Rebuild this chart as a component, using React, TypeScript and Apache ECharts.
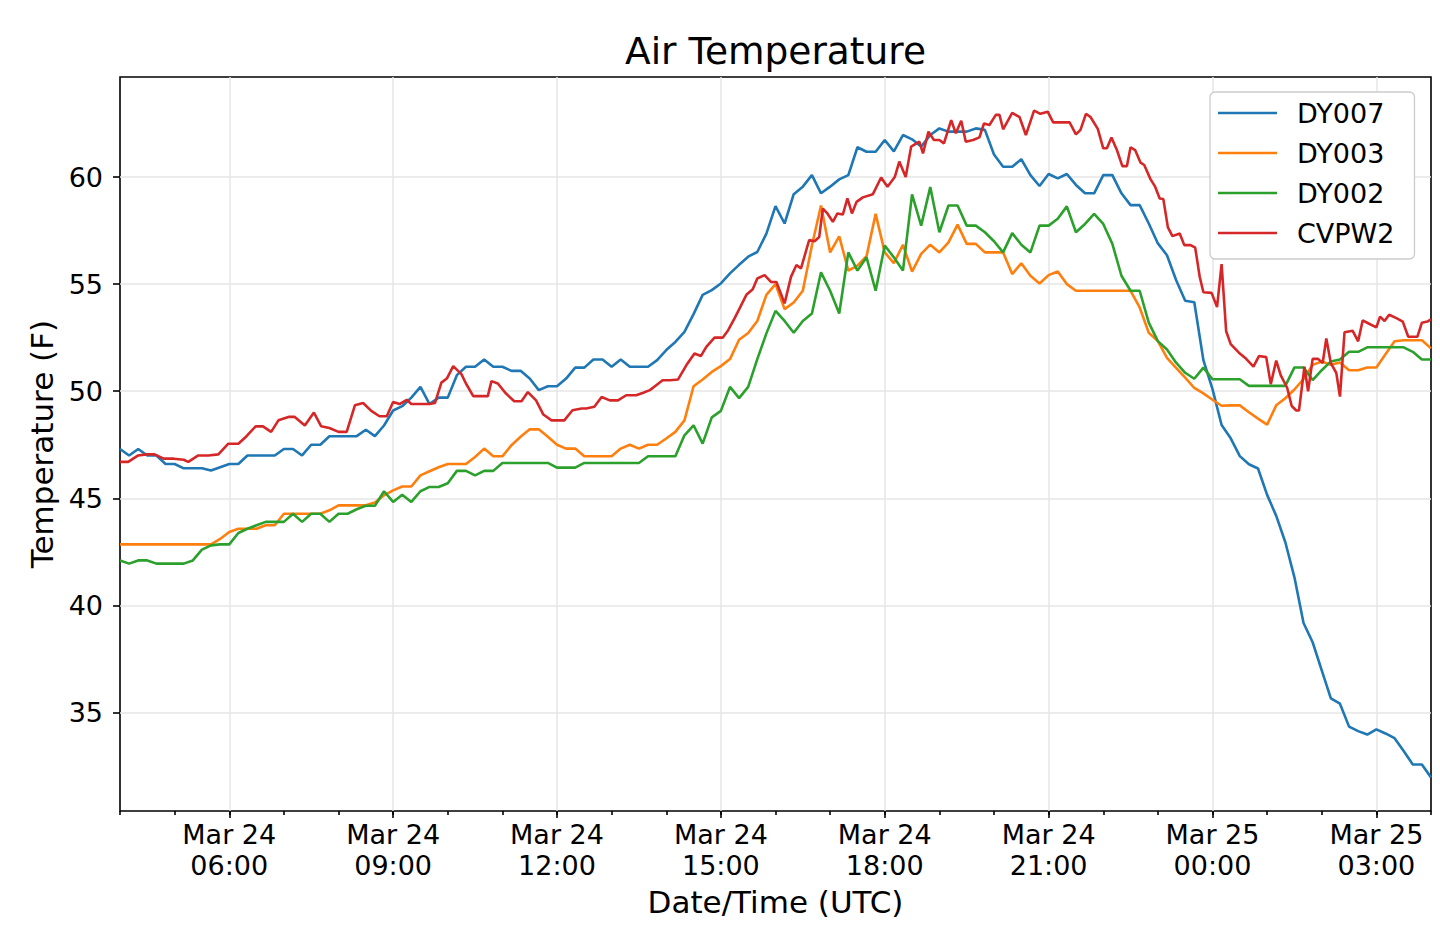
import React, { useEffect, useRef } from "react";
import * as echarts from "echarts";

const FONT = "'DejaVu Sans', 'Noto Sans', sans-serif";

// minutes after Mar 24 04:00 UTC; DY stations report every 10 minutes
const STEP_MINUTES = 10;

const dy007 = [
  47.3, 47.0, 47.3, 47.0, 47.0, 46.6, 46.6, 46.4, 46.4, 46.4,
  46.3, 46.45, 46.6, 46.6, 47.0, 47.0, 47.0, 47.0, 47.3, 47.3,
  47.0, 47.5, 47.5, 47.9, 47.9, 47.9, 47.9, 48.2, 47.9, 48.4,
  49.1, 49.3, 49.7, 50.2, 49.4, 49.7, 49.7, 50.75, 51.14, 51.14,
  51.48, 51.14, 51.14, 50.95, 50.95, 50.59, 50.05, 50.23, 50.23, 50.59,
  51.1, 51.1, 51.48, 51.48, 51.14, 51.48, 51.14, 51.14, 51.14, 51.45,
  51.92, 52.3, 52.77, 53.6, 54.5, 54.72, 55.03, 55.5, 55.9, 56.28,
  56.5, 57.36, 58.64, 57.83, 59.2, 59.55, 60.09, 59.24, 59.55, 59.89,
  60.09, 61.39, 61.18, 61.18, 61.73, 61.2, 61.96, 61.76, 61.42, 61.96,
  62.27, 62.12, 62.12, 62.12, 62.27, 62.2, 61.05, 60.48, 60.48, 60.83,
  60.09, 59.58, 60.14, 59.94, 60.14, 59.63, 59.24, 59.24, 60.09, 60.09,
  59.24, 58.69, 58.69, 57.83, 56.9, 56.35, 55.19, 54.22, 54.15, 51.45,
  50.1, 48.42, 47.8, 46.97, 46.59, 46.39, 45.16, 44.18, 42.95, 41.31,
  39.18, 38.28, 36.97, 35.66, 35.41, 34.34, 34.13, 33.97, 34.21, 34.02,
  33.8, 33.2, 32.57, 32.57, 31.97,
];

const dy003 = [
  42.85, 42.85, 42.85, 42.85, 42.85, 42.85, 42.85, 42.85, 42.85, 42.85,
  42.85, 43.1, 43.43, 43.58, 43.58, 43.58, 43.74, 43.74, 44.28, 44.28,
  44.28, 44.28, 44.28, 44.44, 44.67, 44.67, 44.67, 44.67, 44.8, 45.14,
  45.37, 45.55, 45.55, 46.07, 46.26, 46.45, 46.6, 46.6, 46.6, 46.93,
  47.32, 46.96, 46.96, 47.48, 47.87, 48.22, 48.22, 47.87, 47.5, 47.32,
  47.32, 46.96, 46.96, 46.96, 46.96, 47.32, 47.5, 47.32, 47.5, 47.5,
  47.79, 48.1, 48.64, 50.23, 50.55, 50.9, 51.17, 51.5, 52.4, 52.72,
  53.28, 54.5, 55.0, 53.83, 54.14, 54.69, 56.8, 58.67, 56.48, 57.23,
  55.63, 55.86, 56.3, 58.28, 56.48, 55.98, 56.84, 55.58, 56.41, 56.84,
  56.48, 56.95, 57.78, 56.88, 56.88, 56.48, 56.48, 56.48, 55.47, 55.97,
  55.39, 55.03, 55.42, 55.59, 55.0, 54.69, 54.69, 54.69, 54.69, 54.69,
  54.69, 54.69, 53.91, 52.73, 52.34, 51.56, 51.09, 50.63, 50.15, 49.9,
  49.6, 49.32, 49.34, 49.34, 49.02, 48.72, 48.44, 49.34, 49.67, 50.08,
  50.57, 51.23, 51.39, 51.23, 51.34, 50.98, 50.98, 51.11, 51.11, 51.72,
  52.33, 52.38, 52.38, 52.38, 52.0,
];

const dy002 = [
  42.1, 41.95, 42.1, 42.1, 41.95, 41.95, 41.95, 41.95, 42.1, 42.6,
  42.8, 42.85, 42.85, 43.38, 43.58, 43.74, 43.9, 43.9, 43.9, 44.28,
  43.9, 44.28, 44.28, 43.9, 44.28, 44.28, 44.49, 44.65, 44.65, 45.33,
  44.83, 45.17, 44.83, 45.33, 45.53, 45.53, 45.7, 46.28, 46.28, 46.07,
  46.28, 46.28, 46.65, 46.65, 46.65, 46.65, 46.65, 46.65, 46.43, 46.43,
  46.43, 46.65, 46.65, 46.65, 46.65, 46.65, 46.65, 46.65, 46.96, 46.96,
  46.96, 46.96, 47.94, 48.41, 47.55, 48.78, 49.08, 50.2, 49.68, 50.2,
  51.5, 52.7, 53.75, 53.28, 52.73, 53.28, 53.63, 55.55, 54.69, 53.63,
  56.48, 55.63, 56.25, 54.69, 56.8, 56.25, 55.63, 59.19, 57.73, 59.53,
  57.42, 58.67, 58.67, 57.73, 57.73, 57.42, 57.0, 56.48, 57.38, 56.84,
  56.48, 57.73, 57.73, 58.05, 58.63, 57.42, 57.81, 58.28, 57.81, 56.88,
  55.39, 54.69, 54.69, 53.2, 52.34, 51.95, 51.33, 50.86, 50.58, 51.1,
  50.56, 50.56, 50.56, 50.56, 50.25, 50.25, 50.25, 50.25, 50.25, 51.11,
  51.11, 50.52, 50.98, 51.39, 51.48, 51.84, 51.84, 52.05, 52.05, 52.05,
  52.05, 52.05, 51.84, 51.48, 51.48,
];

// CVPW2 reports irregularly: minutes after Mar 24 04:00 UTC and values
const cvpw2Minutes = [
  0, 9, 20, 29, 38, 48, 59, 70, 75, 86, 97, 108, 119, 130, 139, 149, 157, 166, 174, 185,
  192, 203, 213, 221, 230, 240, 249, 258, 267, 276, 285, 293, 300, 307, 315, 320, 340, 346, 353, 359,
  366, 375, 380, 388, 404, 408, 415, 424, 433, 441, 448, 457, 465, 474, 488, 497, 507, 512, 521, 529,
  538, 547, 556, 567, 574, 582, 589, 596, 604, 613, 622, 631, 638, 644, 653, 662, 668, 675, 681, 688,
  695, 700, 708, 715, 721, 730, 737, 743, 748, 757, 763, 768, 772, 777, 783, 788, 794, 799, 804, 809,
  816, 827, 836, 843, 851, 856, 863, 869, 878, 882, 888, 894, 900, 905, 913, 918, 924, 929, 937, 944,
  949, 955, 962, 966, 970, 980, 988, 995, 1004, 1011, 1019, 1025, 1033, 1043, 1050, 1055, 1061, 1066, 1074, 1080,
  1084, 1089, 1095, 1101, 1106, 1110, 1115, 1121, 1125, 1132, 1137, 1142, 1146, 1151, 1156, 1164, 1169, 1176, 1181, 1186,
  1190, 1199, 1205, 1210, 1215, 1220, 1229, 1237, 1245, 1251, 1259, 1264, 1270, 1275, 1282, 1287, 1292, 1295, 1301, 1305,
  1310, 1316, 1321, 1325, 1330, 1336, 1340, 1345, 1354, 1360, 1365, 1372, 1380, 1384, 1389, 1394, 1402, 1409, 1415, 1425,
  1430, 1436, 1440,
];
const cvpw2Values = [
  46.7, 46.7, 47.0, 47.05, 47.05, 46.85, 46.85, 46.8, 46.7, 47.0, 47.0, 47.05, 47.55, 47.55, 47.9, 48.36, 48.36, 48.1, 48.64, 48.8,
  48.8, 48.4, 49.0, 48.36, 48.28, 48.1, 48.1, 49.34, 49.45, 49.08, 48.83, 48.83, 49.5, 49.4, 49.6, 49.4, 49.4, 49.45, 50.4, 50.59,
  51.17, 50.8, 50.36, 49.77, 49.77, 50.47, 50.36, 49.89, 49.53, 49.53, 49.96, 49.57, 48.91, 48.64, 48.64, 49.11, 49.19, 49.19, 49.27, 49.73,
  49.57, 49.57, 49.81, 49.81, 49.92, 50.05, 50.28, 50.51, 50.51, 50.55, 51.21, 51.76, 51.64, 52.07, 52.5, 52.5, 52.85, 53.4, 53.9, 54.5,
  54.76, 55.26, 55.42, 55.1, 55.1, 54.1, 55.34, 55.89, 55.73, 57.06, 57.0, 57.2, 58.53, 58.3, 57.91, 58.3, 58.25, 59.0, 58.3, 58.84,
  59.05, 59.2, 59.98, 59.55, 60.0, 60.72, 60.0, 61.42, 61.65, 61.1, 62.12, 61.73, 61.73, 61.57, 62.66, 62.04, 62.63, 61.65, 61.73, 61.85,
  62.5, 62.43, 62.9, 62.9, 62.23, 63.0, 62.8, 61.96, 63.1, 62.95, 63.05, 62.55, 62.55, 62.55, 61.99, 62.2, 62.95, 62.8, 62.25, 61.34,
  61.34, 61.85, 61.26, 60.51, 60.51, 61.39, 61.26, 60.67, 60.56, 59.89, 59.55, 59.0, 58.97, 57.65, 57.24, 57.36, 56.82, 56.82, 56.7, 55.33,
  54.62, 54.59, 53.93, 55.93, 52.8, 52.2, 51.8, 51.51, 51.15, 51.64, 51.59, 50.33, 51.43, 50.74, 50.16, 49.31, 49.1, 49.1, 51.15, 50.0,
  51.51, 51.51, 51.31, 52.46, 51.31, 50.85, 49.75, 52.75, 52.82, 52.33, 53.31, 53.15, 52.98, 53.48, 53.28, 53.57, 53.41, 53.25, 52.54, 52.54,
  53.2, 53.25, 53.36,
];

const seriesNames = ["DY007", "DY003", "DY002", "CVPW2"];
const seriesColors = ["#1f77b4", "#ff7f0e", "#2ca02c", "#d62728"];

const xTickMinutes = [120, 300, 480, 660, 840, 1020, 1200, 1380];
const xTickLabels = [
  "Mar 24\n06:00", "Mar 24\n09:00", "Mar 24\n12:00", "Mar 24\n15:00",
  "Mar 24\n18:00", "Mar 24\n21:00", "Mar 25\n00:00", "Mar 25\n03:00",
];
const yTickValues = [35, 40, 45, 50, 55, 60];

const regular = (vals: number[]) => vals.map((v, i) => [i * STEP_MINUTES, v]);

function buildOption() {
  const datasets = [
    regular(dy007),
    regular(dy003),
    regular(dy002),
    cvpw2Minutes.map((m, i) => [m, cvpw2Values[i]]),
  ];
  const tickStyle = { color: "#000", width: 1.6 };
  return {
    animation: false,
    backgroundColor: "#ffffff",
    textStyle: { fontFamily: FONT },
    title: {
      text: "Air Temperature",
      left: 625,
      top: 31,
      padding: 0,
      textStyle: { fontFamily: FONT, fontSize: 37.5, fontWeight: "normal", color: "#000", lineHeight: 40 },
    },
    legend: {
      orient: "vertical",
      left: 1210,
      top: 92,
      data: seriesNames,
      icon: "rect",
      itemWidth: 59,
      itemHeight: 2.6,
      itemGap: 10,
      padding: [6, 20, 11, 8],
      backgroundColor: "#ffffff",
      borderColor: "#cccccc",
      borderWidth: 1.3,
      borderRadius: 5,
      selectedMode: false,
      textStyle: { fontFamily: FONT, fontSize: 27, color: "#000", lineHeight: 30, padding: [0, 0, 0, 15] },
    },
    grid: {
      left: 120,
      top: 77,
      right: 9,
      bottom: 123,
      show: true,
      borderColor: "#000",
      borderWidth: 1.6,
      backgroundColor: "transparent",
    },
    xAxis: [
      {
        type: "value",
        min: 0,
        max: 1440,
        interval: 60,
        position: "bottom",
        axisLine: { show: false },
        axisTick: { show: true, length: 4, lineStyle: tickStyle },
        axisLabel: { show: false },
        splitLine: { show: false },
        name: "Date/Time (UTC)",
        nameLocation: "middle",
        nameGap: 75,
        nameTextStyle: { fontFamily: FONT, fontSize: 31, color: "#000", lineHeight: 31 },
      },
      {
        type: "value",
        min: 0,
        max: 1440,
        interval: 60,
        position: "bottom",
        axisLine: { show: false },
        axisTick: { show: true, length: 7, lineStyle: tickStyle, customValues: xTickMinutes },
        axisLabel: {
          show: true,
          customValues: xTickMinutes,
          margin: 8,
          fontFamily: FONT,
          fontSize: 27,
          lineHeight: 31,
          color: "#000",
          formatter: (v: number) => {
            const k = xTickMinutes.indexOf(Math.round(v));
            return k >= 0 ? xTickLabels[k] : "";
          },
        },
        splitLine: { show: true, lineStyle: { color: "#e6e6e6", width: 1.5 } },
      },
    ],
    yAxis: {
      type: "value",
      min: 30.4,
      max: 64.67,
      splitNumber: 7,
      axisLine: { show: false },
      axisTick: { show: true, length: 7, lineStyle: tickStyle, customValues: yTickValues },
      axisLabel: {
        customValues: yTickValues,
        margin: 17,
        fontFamily: FONT,
        fontSize: 27,
        color: "#000",
      },
      splitLine: { show: true, lineStyle: { color: "#e6e6e6", width: 1.5 } },
      name: "Temperature (F)",
      nameLocation: "middle",
      nameGap: 59,
      nameTextStyle: { fontFamily: FONT, fontSize: 31, color: "#000", lineHeight: 31 },
    },
    series: seriesNames.map((name, k) => ({
      name,
      type: "line",
      xAxisIndex: 0,
      data: datasets[k],
      showSymbol: false,
      symbol: "none",
      color: seriesColors[k],
      lineStyle: { color: seriesColors[k], width: 2.6 },
      emphasis: { disabled: true },
      z: 2 + k,
    })),
  };
}

export default function App() {
  const ref = useRef<HTMLDivElement>(null);
  useEffect(() => {
    if (!ref.current) return;
    const chart = echarts.init(ref.current, null, { renderer: "svg" });
    chart.setOption(buildOption() as any);
    return () => chart.dispose();
  }, []);
  return (
    <div
      ref={ref}
      style={{ position: "absolute", left: 0, top: 0, width: 1440, height: 934, background: "#ffffff" }}
    />
  );
}
